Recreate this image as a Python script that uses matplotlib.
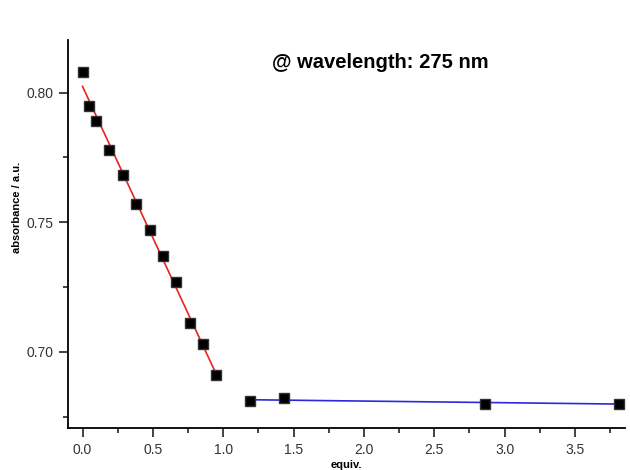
import numpy as np
import matplotlib
matplotlib.use('Agg')
import matplotlib.pyplot as plt
from matplotlib.ticker import MultipleLocator

plt.rcParams['font.family'] = ['Liberation Sans', 'DejaVu Sans']

equiv = [0.0, 0.048, 0.095, 0.19, 0.286, 0.381, 0.476, 0.571, 0.667, 0.762, 0.857, 0.952,
         1.19, 1.43, 2.86, 3.81]
absorb = [0.808, 0.795, 0.789, 0.778, 0.768, 0.757, 0.747, 0.737, 0.727, 0.711, 0.703, 0.691,
          0.681, 0.682, 0.680, 0.680]
n_first = 12  # points used for the first (red) fit

x = np.array(equiv)
y = np.array(absorb)

fig = plt.figure(figsize=(6.3, 4.7), dpi=100)
ax = fig.add_axes([0.108, 0.089, 0.884, 0.826])

# linear fits
p1 = np.polyfit(x[:n_first], y[:n_first], 1)
p2 = np.polyfit(x[n_first:], y[n_first:], 1)
xa = np.array([x[0], x[n_first - 1]])
xb = np.array([x[n_first], x[-1]])
ax.plot(xa, np.polyval(p1, xa), color='#e8231f', lw=1.2, zorder=2)
ax.plot(xb, np.polyval(p2, xb), color='#2a2ad8', lw=1.2, zorder=2)

ax.plot(x, y, 's', color='black', ms=7.5, mec='#333333', zorder=3)

ax.set_xlim(-0.103, 3.855)
ax.set_ylim(0.6705, 0.8203)
ax.xaxis.set_major_locator(MultipleLocator(0.5))
ax.xaxis.set_minor_locator(MultipleLocator(0.25))
ax.yaxis.set_major_locator(MultipleLocator(0.05))
ax.yaxis.set_minor_locator(MultipleLocator(0.025))
ax.xaxis.set_major_formatter(plt.FormatStrFormatter('%.1f'))
ax.yaxis.set_major_formatter(plt.FormatStrFormatter('%.2f'))

ax.spines['top'].set_visible(False)
ax.spines['right'].set_visible(False)
for s in ['left', 'bottom']:
    ax.spines[s].set_linewidth(1.3)
ax.tick_params(which='both', direction='out', width=1.2, colors='#222222', labelsize=10,
               labelcolor='#333333')
ax.tick_params(which='major', length=6.5, pad=4)
ax.tick_params(which='minor', length=3.6)

ax.set_xlabel('equiv.', fontsize=8, fontweight='bold', labelpad=2)
ax.set_ylabel('absorbance / a.u.', fontsize=8, fontweight='bold')
ax.yaxis.set_label_coords(-0.083, 0.57)

ax.text(2.115, 0.8115, '@ wavelength: 275 nm', fontsize=14.5, fontweight='bold',
        ha='center', va='center')

plt.savefig('out.png', dpi=100)
